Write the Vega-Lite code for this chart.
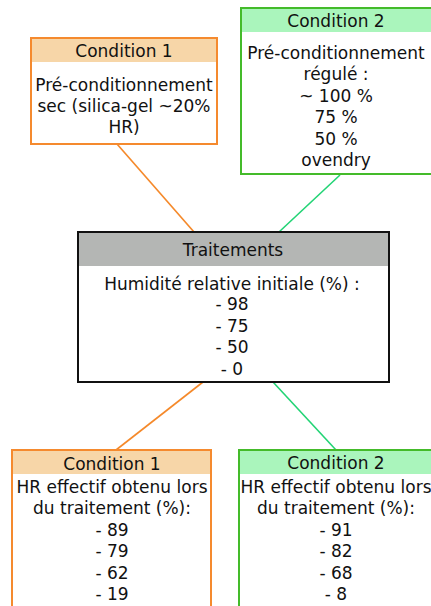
{
  "$schema": "https://vega.github.io/schema/vega-lite/v6.json",
  "width": 431,
  "height": 606,
  "padding": 0,
  "autosize": {"type": "none"},
  "background": "white",
  "config": {"view": {"stroke": null}},
  "datasets": {
    "fills": [
      {"part": "body", "x": 31, "x2": 217, "y": 38, "y2": 144},
      {"part": "c1h", "x": 31, "x2": 217, "y": 38, "y2": 62},
      {"part": "body", "x": 241, "x2": 434, "y": 8, "y2": 174},
      {"part": "c2h", "x": 241, "x2": 434, "y": 8, "y2": 32},
      {"part": "body", "x": 78, "x2": 389, "y": 232, "y2": 382},
      {"part": "th", "x": 78, "x2": 389, "y": 232, "y2": 266},
      {"part": "body", "x": 12, "x2": 211, "y": 450, "y2": 610},
      {"part": "c1h", "x": 12, "x2": 211, "y": 450, "y2": 474},
      {"part": "body", "x": 239, "x2": 434, "y": 450, "y2": 610},
      {"part": "c2h", "x": 239, "x2": 434, "y": 450, "y2": 474}
    ],
    "borders": [
      {"box": "c1", "x": 31, "x2": 217, "y": 38, "y2": 144},
      {"box": "c2", "x": 241, "x2": 434, "y": 8, "y2": 174},
      {"box": "t", "x": 78, "x2": 389, "y": 232, "y2": 382},
      {"box": "c1", "x": 12, "x2": 211, "y": 450, "y2": 610},
      {"box": "c2", "x": 239, "x2": 434, "y": 450, "y2": 610}
    ],
    "links": [
      {"link": "o", "x": 117, "y": 144, "x2": 194, "y2": 232},
      {"link": "g", "x": 340, "y": 175, "x2": 279, "y2": 232},
      {"link": "o", "x": 203, "y": 382, "x2": 116, "y2": 450},
      {"link": "g", "x": 273, "y": 382, "x2": 336, "y2": 450}
    ],
    "labels": [
      {"x": 124, "y": 51.5, "t": "Condition 1"},
      {"x": 124, "y": 85.5, "t": "Pré-conditionnement"},
      {"x": 124, "y": 106.5, "t": "sec (silica-gel ~20%"},
      {"x": 124, "y": 127.5, "t": "HR)"},
      {"x": 336, "y": 21.5, "t": "Condition 2"},
      {"x": 336, "y": 53.5, "t": "Pré-conditionnement"},
      {"x": 336, "y": 74.5, "t": "régulé :"},
      {"x": 336, "y": 96.5, "t": "~ 100 %"},
      {"x": 336, "y": 117.5, "t": "75 %"},
      {"x": 336, "y": 139.5, "t": "50 %"},
      {"x": 336, "y": 160.5, "t": "ovendry"},
      {"x": 233, "y": 250.5, "t": "Traitements"},
      {"x": 232, "y": 284.5, "t": "Humidité relative initiale (%) :"},
      {"x": 232, "y": 304.5, "t": "- 98"},
      {"x": 232, "y": 326.5, "t": "- 75"},
      {"x": 232, "y": 347.5, "t": "- 50"},
      {"x": 232, "y": 369.5, "t": "- 0"},
      {"x": 112, "y": 464.5, "t": "Condition 1"},
      {"x": 112, "y": 487.5, "t": "HR effectif obtenu lors"},
      {"x": 112, "y": 508.5, "t": "du traitement (%):"},
      {"x": 112, "y": 530.5, "t": "- 89"},
      {"x": 112, "y": 551.5, "t": "- 79"},
      {"x": 112, "y": 573.5, "t": "- 62"},
      {"x": 112, "y": 594.5, "t": "- 19"},
      {"x": 336, "y": 463.5, "t": "Condition 2"},
      {"x": 336, "y": 487.5, "t": "HR effectif obtenu lors"},
      {"x": 336, "y": 508.5, "t": "du traitement (%):"},
      {"x": 336, "y": 530.5, "t": "- 91"},
      {"x": 336, "y": 551.5, "t": "- 82"},
      {"x": 336, "y": 573.5, "t": "- 68"},
      {"x": 336, "y": 594.5, "t": "- 8"}
    ]
  },
  "layer": [
    {
      "data": {"name": "fills"},
      "mark": {"type": "rect", "strokeWidth": 0},
      "encoding": {
        "x": {"field": "x", "type": "quantitative", "scale": {"domain": [0, 431], "nice": false, "zero": false}, "axis": null},
        "x2": {"field": "x2"},
        "y": {"field": "y", "type": "quantitative", "scale": {"domain": [606, 0], "nice": false, "zero": false}, "axis": null},
        "y2": {"field": "y2"},
        "fill": {"field": "part", "type": "nominal", "legend": null,
          "scale": {"domain": ["body", "c1h", "c2h", "th"], "range": ["#ffffff", "#f7d6a8", "#aaf5bc", "#b4b6b4"]}}
      }
    },
    {
      "data": {"name": "links"},
      "mark": {"type": "rule", "strokeWidth": 1.6},
      "encoding": {
        "x": {"field": "x", "type": "quantitative"},
        "x2": {"field": "x2"},
        "y": {"field": "y", "type": "quantitative"},
        "y2": {"field": "y2"},
        "color": {"field": "link", "type": "nominal", "legend": null,
          "scale": {"domain": ["o", "g"], "range": ["#f5892a", "#22d475"]}}
      }
    },
    {
      "data": {"name": "borders"},
      "mark": {"type": "rect", "fill": null, "fillOpacity": 0, "strokeWidth": 2},
      "encoding": {
        "x": {"field": "x", "type": "quantitative"},
        "x2": {"field": "x2"},
        "y": {"field": "y", "type": "quantitative"},
        "y2": {"field": "y2"},
        "stroke": {"field": "box", "type": "nominal", "legend": null,
          "scale": {"domain": ["c1", "c2", "t"], "range": ["#f58a2e", "#44bb2a", "#111111"]}}
      }
    },
    {
      "data": {"name": "labels"},
      "mark": {"type": "text", "font": "DejaVu Sans", "fontSize": 17, "color": "#111111", "align": "center", "baseline": "middle"},
      "encoding": {
        "x": {"field": "x", "type": "quantitative"},
        "y": {"field": "y", "type": "quantitative"},
        "text": {"field": "t", "type": "nominal"}
      }
    }
  ],
  "resolve": {"scale": {"color": "independent", "fill": "independent", "stroke": "independent"}}
}
